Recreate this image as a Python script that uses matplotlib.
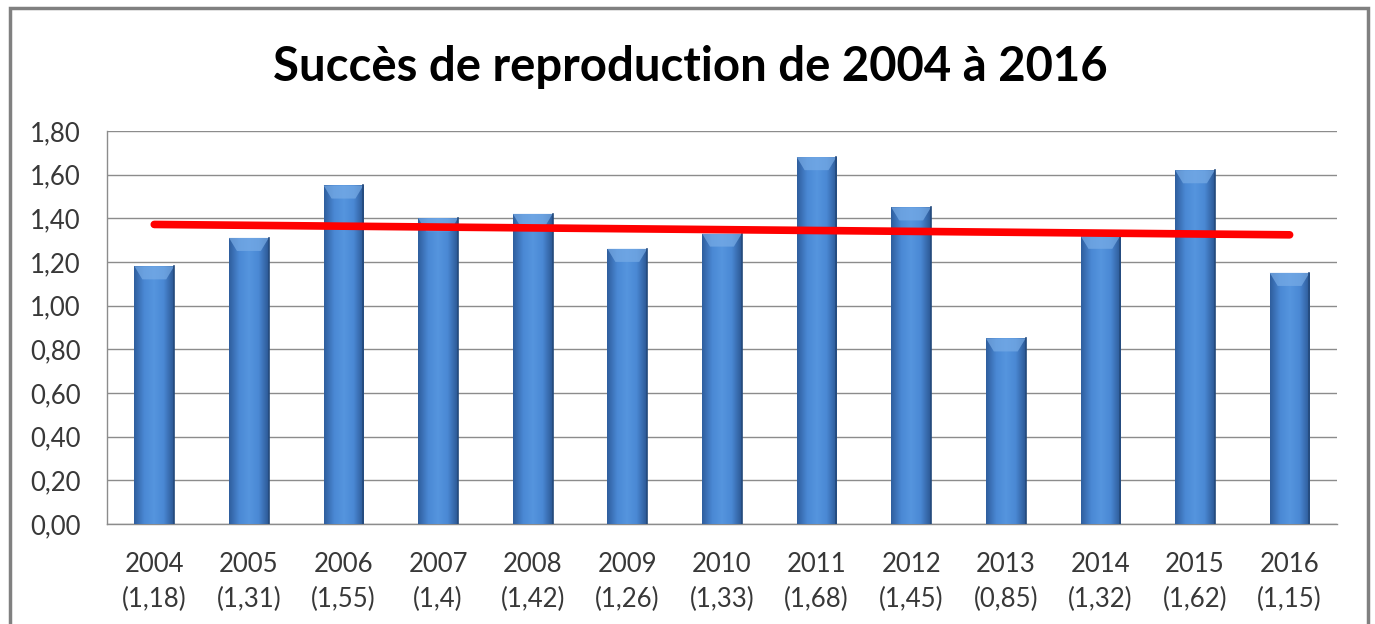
import numpy as np
import matplotlib.pyplot as plt
from matplotlib.patches import Rectangle
from matplotlib.colors import LinearSegmentedColormap

years = [2004, 2005, 2006, 2007, 2008, 2009, 2010, 2011, 2012, 2013, 2014, 2015, 2016]
values = [1.18, 1.31, 1.55, 1.4, 1.42, 1.26, 1.33, 1.68, 1.45, 0.85, 1.32, 1.62, 1.15]
yticks = [0.0, 0.2, 0.4, 0.6, 0.8, 1.0, 1.2, 1.4, 1.6, 1.8]
title = "Succès de reproduction de 2004 à 2016"

plt.rcParams['font.family'] = ['Lato', 'DejaVu Sans']

fig = plt.figure(figsize=(13.75, 6.24), dpi=100)
ax = fig.add_axes([0.0778, 0.1603, 0.8945, 0.630])

x = np.arange(len(years))
bars = ax.bar(x, values, width=0.42, color='#4a86d0', zorder=2)

# cylinder-like shading inside each bar
shade = LinearSegmentedColormap.from_list(
    'shade', ['#2f5e9e', '#4a88d4', '#5595de', '#4a88d4', '#2c5894'])
grad = np.linspace(0, 1, 64).reshape(1, -1)
for b in bars:
    x0, w, h = b.get_x(), b.get_width(), b.get_height()
    im = ax.imshow(grad, cmap=shade, aspect='auto', extent=(x0, x0 + w, 0, h),
                   zorder=3, interpolation='bicubic')
    im.set_clip_path(b)
    # lighter bevel on top
    ax.fill([x0, x0 + w, x0 + w * 0.8, x0 + w * 0.2],
            [h, h, h - 0.06, h - 0.06], color='#78ace6', alpha=0.7,
            zorder=4, lw=0)
    ax.plot([x0 + w, x0 + w], [0, h], color='#244a7c', lw=1.2, zorder=4)

# linear trend
coef = np.polyfit(x, values, 1)
ax.plot(x, np.polyval(coef, x), color='red', lw=5.5, solid_capstyle='round', zorder=5)

ax.set_xlim(-0.5, len(years) - 0.5)
ax.set_ylim(0, 1.8)
ax.set_yticks(yticks)
ax.set_yticklabels([f"{v:.2f}".replace('.', ',') for v in yticks])
ax.set_xticks(x)
ax.set_xticklabels([f"{y}\n({str(v).replace('.', ',')})" for y, v in zip(years, values)],
                   linespacing=1.5)
ax.tick_params(axis='both', length=0, labelsize=18.5, colors='#383838')
ax.tick_params(axis='y', pad=19)
ax.tick_params(axis='x', pad=20)
ax.grid(axis='y', color='#8c8c8c', lw=1, zorder=0)
ax.set_axisbelow(True)
for s in ['top', 'right']:
    ax.spines[s].set_visible(False)
for s in ['left', 'bottom']:
    ax.spines[s].set_color('#8c8c8c')
    ax.spines[s].set_linewidth(1)

fig.text(0.502, 0.892, title, ha='center', va='center', fontsize=34,
         fontweight='bold', color='black')

fig.patches.append(Rectangle((0.0073, -0.05), 0.9876, 1.037, transform=fig.transFigure,
                             fill=False, edgecolor='#808080', lw=2.5))

fig.savefig('out.png', dpi=100)
